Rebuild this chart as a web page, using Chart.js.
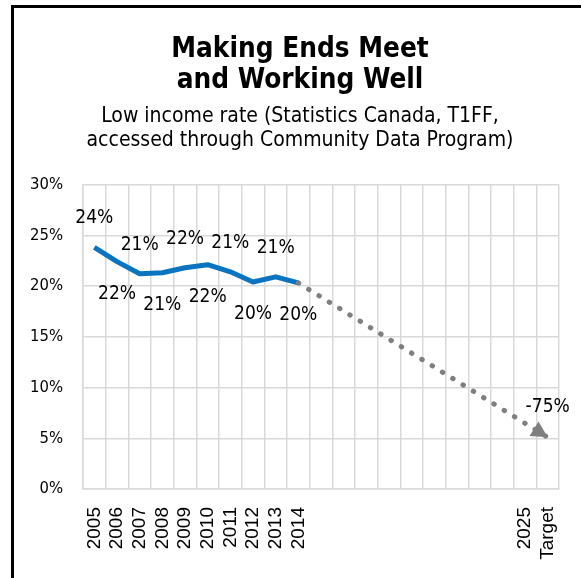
<!DOCTYPE html>
<html>
<head>
<meta charset="utf-8">
<script src="https://cdn.jsdelivr.net/npm/chart.js@4.4.1/dist/chart.umd.min.js"></script>
<style>
    html, body { margin: 0; padding: 0; background: #fff; overflow: hidden; }
    #frame { position: absolute; left: 11px; top: 5px; width: 620px; height: 620px; border: 3px solid #000; box-sizing: border-box; }
    #box { position: absolute; left: 0; top: 0; width: 581px; height: 578px; }
</style>
</head>
<body>
<div id="frame"></div>
<div id="box"><canvas id="lowIncomeChart" width="581" height="578"></canvas></div>
<script>
// categories along the x axis (blank slots are the years 2015-2024 with no label)
const years = ['2005', '2006', '2007', '2008', '2009', '2010', '2011', '2012', '2013', '2014',
    '', '', '', '', '', '', '', '', '', '2025', 'Target'];

// low income rate, %
const actualRates = [23.8, 22.4, 21.2, 21.3, 21.8, 22.1, 21.4, 20.4, 20.9, 20.3];
const targetRate = 5.1;
const targetLabel = '-75%';

const yTickValues = [0, 5, 10, 15, 20, 25, 30];

const titleLines = ['Making Ends Meet', 'and Working Well'];
const subtitleLines = ['Low income rate (Statistics Canada, T1FF,', 'accessed through Community Data Program)'];

const FONT = '"DejaVu Sans Condensed", "DejaVu Sans", sans-serif';

document.addEventListener('DOMContentLoaded', function() {
    const ctx = document.getElementById('lowIncomeChart').getContext('2d');

    const actualSeries = years.map((y, i) => i < actualRates.length ? actualRates[i] : null);
    const targetSeries = years.map((y, i) => {
        if (i === actualRates.length - 1) return actualRates[i];
        if (i === years.length - 1) return targetRate;
        return null;
    });

    // rounded value labels, alternating above / below the line, plus the arrow head
    const valueLabels = {
        id: 'valueLabels',
        afterDatasetsDraw(chart) {
            const c = chart.ctx;
            const meta = chart.getDatasetMeta(0);
            c.save();
            c.font = '19px ' + FONT;
            c.fillStyle = '#000';
            c.textAlign = 'center';
            c.textBaseline = 'middle';
            actualRates.forEach((v, i) => {
                const pt = meta.data[i];
                const dy = i % 2 === 0 ? -29 : 32;
                c.fillText(Math.round(v) + '%', pt.x, pt.y + dy);
            });

            const tMeta = chart.getDatasetMeta(1);
            const start = tMeta.data[actualRates.length - 1];
            const end = tMeta.data[years.length - 1];
            c.fillText(targetLabel, end.x, end.y - 30);

            const ang = Math.atan2(end.y - start.y, end.x - start.x);
            c.translate(end.x, end.y);
            c.rotate(ang);
            c.fillStyle = '#7f7f7f';
            c.beginPath();
            c.moveTo(0, 0);
            c.lineTo(-16, -8.5);
            c.lineTo(-16, 8.5);
            c.closePath();
            c.fill();
            c.restore();
        }
    };

    new Chart(ctx, {
        type: 'line',
        data: {
            labels: years,
            datasets: [{
                label: 'Low income rate',
                data: actualSeries,
                borderColor: '#0a74c0',
                borderWidth: 5,
                borderJoinStyle: 'round',
                pointRadius: 0,
                tension: 0,
                order: 1
            }, {
                label: 'Target path',
                data: targetSeries,
                borderColor: '#7f7f7f',
                borderWidth: 5,
                borderCapStyle: 'round',
                borderDash: [0.5, 11.6],
                pointRadius: 0,
                spanGaps: true,
                tension: 0,
                order: 0
            }]
        },
        options: {
            responsive: false,
            animation: false,
            // title block centred on the frame, not the plot
            layout: { padding: { left: 28, right: 9, top: 0, bottom: 0 } },
            plugins: {
                legend: { display: false },
                tooltip: { enabled: false },
                title: {
                    display: true,
                    text: titleLines,
                    color: '#000',
                    font: { family: FONT, size: 27.7, weight: 'bold', lineHeight: 1.12 },
                    padding: { top: 34, bottom: 0 }
                },
                subtitle: {
                    display: true,
                    text: subtitleLines,
                    color: '#000',
                    font: { family: FONT, size: 21, lineHeight: 1.13 },
                    padding: { top: 9, bottom: 32 }
                }
            },
            scales: {
                x: {
                    offset: true,
                    grid: { offset: true, color: '#d9d9d9', lineWidth: 1.5, drawTicks: false },
                    border: { color: '#d9d9d9', width: 1.5 },
                    ticks: {
                        autoSkip: false,
                        minRotation: 90,
                        maxRotation: 90,
                        padding: 18,
                        color: '#000',
                        font: { family: '"Liberation Sans", Arial, sans-serif', size: 19 }
                    },
                    afterFit(scale) {
                        scale.height = 89;
                        scale.paddingLeft = 0;
                        scale.paddingRight = 22;
                    }
                },
                y: {
                    min: 0,
                    max: 30,
                    afterBuildTicks(scale) { scale.ticks = yTickValues.map(v => ({ value: v })); },
                    grid: { color: '#d9d9d9', lineWidth: 1.5, drawTicks: false },
                    border: { color: '#d9d9d9', width: 1.5 },
                    ticks: {
                        padding: 20,
                        color: '#000',
                        font: { family: FONT, size: 16.5 },
                        callback: v => v + '%'
                    },
                    afterFit(scale) { scale.width = 55; }
                }
            }
        },
        plugins: [valueLabels]
    });
});
</script>
</body>
</html>
